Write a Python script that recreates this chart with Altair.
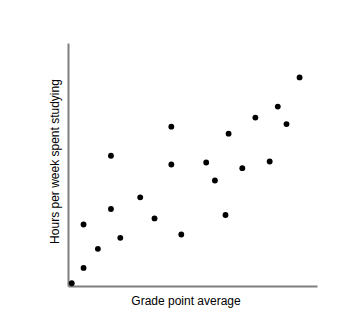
import altair as alt
import pandas as pd

gpa = [0.06, 0.25, 0.25, 0.48, 0.69, 0.69, 0.84, 1.16, 1.39, 1.66, 1.66,
       1.82, 2.22, 2.36, 2.53, 2.58, 2.80, 3.01, 3.24, 3.37, 3.51, 3.72]
hours = [0.45, 2.98, 10.13, 6.12, 21.44, 12.68, 7.93, 14.60, 11.12, 26.23, 20.0,
         8.48, 20.33, 17.36, 11.69, 25.07, 19.39, 27.72, 20.5, 29.54, 26.66, 34.33]

df = pd.DataFrame({"gpa": gpa, "hours": hours})

font = "Liberation Sans"
axis_common = dict(
    ticks=False, labels=False, grid=False,
    domainColor="#7f7f7f", domainWidth=2,
    titleFont=font, titleFontSize=12, titleFontWeight="normal",
    titleColor="#000000", titleBaseline="alphabetic", titleAlign="center",
)

chart = alt.Chart(df).mark_circle(size=34, color="#000000", opacity=1).encode(
    x=alt.X("gpa:Q", scale=alt.Scale(domain=[0, 4], nice=False, zero=False),
            axis=alt.Axis(title="Grade point average", titleX=117.5, titleY=18,
                          **axis_common)),
    y=alt.Y("hours:Q", scale=alt.Scale(domain=[0, 40], nice=False, zero=False),
            axis=alt.Axis(title="Hours per week spent studying", titleX=-10,
                          titleY=118, titleAngle=270, **axis_common)),
).properties(
    width=249, height=243,
    autosize=alt.AutoSizeParams(type="none"),
    padding={"left": 68, "top": 43, "right": 33, "bottom": 49},
    background="white",
).configure_view(strokeWidth=0, stroke="transparent")

chart.save("out.html", embed_options={"renderer": "svg", "actions": False})
